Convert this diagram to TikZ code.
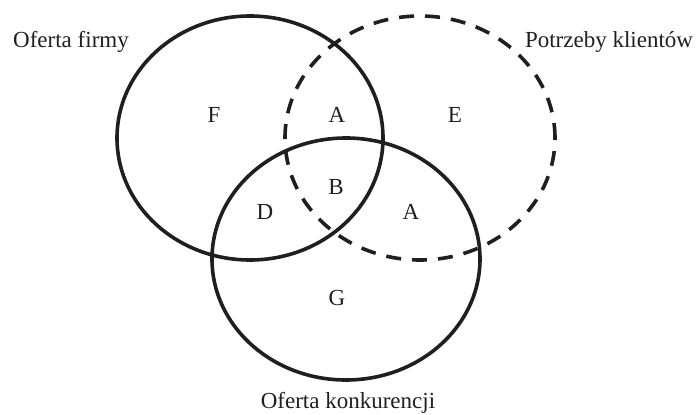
\documentclass[tikz,border=0pt]{standalone}
\usepackage{fontspec}
\setmainfont{Liberation Serif}
\begin{document}
\begin{tikzpicture}[x=1pt,y=-1pt,
  solidc/.style={line width=3.6pt,draw=black!88},
  dashc/.style={line width=3.6pt,draw=black!88,dash pattern=on 15pt off 11pt},
  lbl/.style={font=\fontsize{23}{26}\selectfont,text=black!88,inner sep=0pt}]
\useasboundingbox (0,0) rectangle (699,415);
\draw[dashc] (420,138) ellipse [x radius=135pt, y radius=122pt];
\draw[solidc] (250,138) ellipse [x radius=133pt, y radius=122pt];
\draw[solidc] (346,259) ellipse [x radius=134pt, y radius=121pt];
\node[lbl] (firma) at (71,42) {Oferta firmy};
\node[lbl] (potrzeby) at (609,42) {Potrzeby klientów};
\node[lbl] (konk) at (348,403) {Oferta konkurencji};
\node[lbl] (F) at (214,115) {F};
\node[lbl] (A1) at (337,115) {A};
\node[lbl] (E) at (455,115) {E};
\node[lbl] (B) at (336,187) {B};
\node[lbl] (D) at (265,212) {D};
\node[lbl] (A2) at (411,212) {A};
\node[lbl] (G) at (337,298) {G};
\end{tikzpicture}
\end{document}
